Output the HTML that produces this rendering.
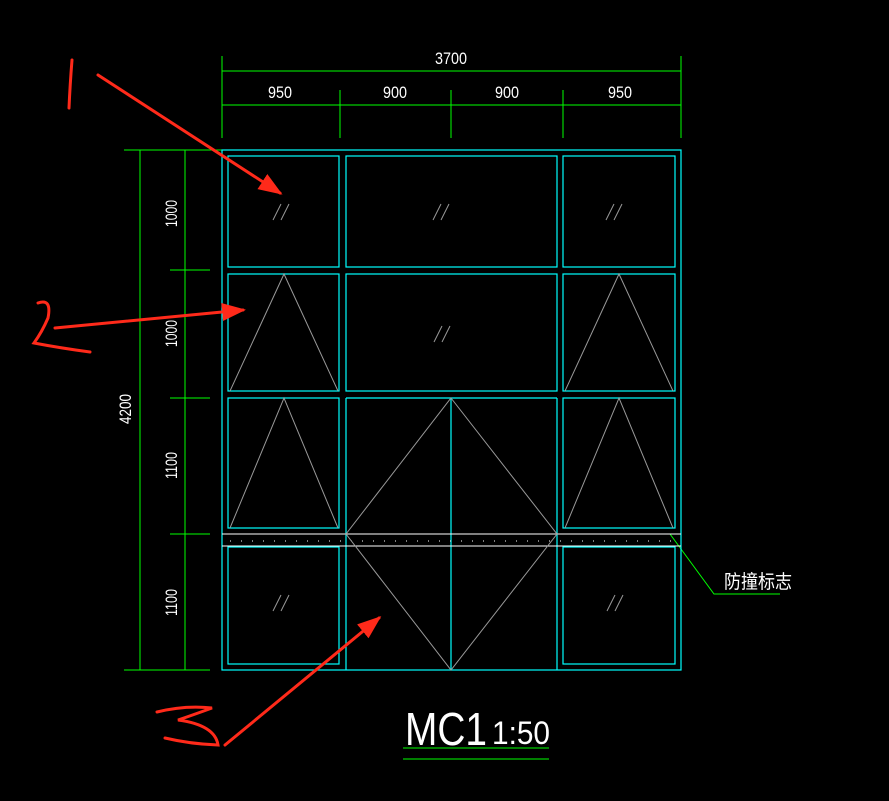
<!DOCTYPE html>
<html><head><meta charset="utf-8"><style>
html,body{margin:0;padding:0;background:#000;}
svg{display:block}
text{font-family:"Liberation Sans","Noto Sans CJK SC",sans-serif;fill:#fff}
</style></head><body>
<svg width="889" height="801" viewBox="0 0 889 801" xmlns="http://www.w3.org/2000/svg">
<defs><marker id="ah" markerWidth="8" markerHeight="8" refX="7" refY="4" orient="auto" markerUnits="strokeWidth"><path d="M0,1 L8,4 L0,7 Z" fill="#ff2a1a"/></marker></defs>
<g stroke="#00ff00" stroke-width="1" fill="none">
<line x1="222" y1="71" x2="681" y2="71"/><line x1="222" y1="105" x2="681" y2="105"/>
<line x1="222" y1="56" x2="222" y2="138"/><line x1="681" y1="56" x2="681" y2="138"/>
<line x1="340" y1="90" x2="340" y2="138"/><line x1="451" y1="90" x2="451" y2="138"/><line x1="563" y1="90" x2="563" y2="138"/>
<line x1="140" y1="150" x2="140" y2="670"/><line x1="185" y1="150" x2="185" y2="670"/>
<line x1="124" y1="150" x2="222" y2="150"/><line x1="124" y1="670" x2="210" y2="670"/>
<line x1="170" y1="270" x2="210" y2="270"/><line x1="170" y1="398" x2="210" y2="398"/><line x1="170" y1="534" x2="210" y2="534"/>
<polyline points="670,534 714,594 780,594"/>
<line x1="403" y1="748" x2="549" y2="748"/><line x1="403" y1="759" x2="549" y2="759"/>
</g>
<g fill="#fff" font-size="17">
<text x="435" y="64" textLength="32" lengthAdjust="spacingAndGlyphs">3700</text>
<text x="268" y="98" textLength="24" lengthAdjust="spacingAndGlyphs">950</text><text x="383" y="98" textLength="24" lengthAdjust="spacingAndGlyphs">900</text>
<text x="495" y="98" textLength="24" lengthAdjust="spacingAndGlyphs">900</text><text x="608" y="98" textLength="24" lengthAdjust="spacingAndGlyphs">950</text>
<text transform="translate(177,227) rotate(-90)" textLength="27" lengthAdjust="spacingAndGlyphs">1000</text>
<text transform="translate(177,347) rotate(-90)" textLength="27" lengthAdjust="spacingAndGlyphs">1000</text>
<text transform="translate(177,479) rotate(-90)" textLength="27" lengthAdjust="spacingAndGlyphs">1100</text>
<text transform="translate(177,616) rotate(-90)" textLength="27" lengthAdjust="spacingAndGlyphs">1100</text>
<text transform="translate(131,424) rotate(-90)" textLength="30" lengthAdjust="spacingAndGlyphs">4200</text>
<text x="724" y="588" font-size="19" textLength="68" lengthAdjust="spacingAndGlyphs">防撞标志</text>
<text x="405" y="745" font-size="46" textLength="82" lengthAdjust="spacingAndGlyphs">MC1</text><text x="492" y="744" font-size="32" textLength="58" lengthAdjust="spacingAndGlyphs">1:50</text>
</g>
<g stroke="#00ffff" stroke-width="1.2" fill="none">
<rect x="222" y="150" width="459" height="520"/>
<rect x="228" y="156" width="111" height="111"/><rect x="346" y="156" width="211" height="111"/><rect x="563" y="156" width="112" height="111"/>
<rect x="228" y="274" width="111" height="117"/><rect x="346" y="274" width="211" height="117"/><rect x="563" y="274" width="112" height="117"/>
<rect x="228" y="398" width="111" height="130"/><rect x="563" y="398" width="112" height="130"/>
<rect x="228" y="547" width="111" height="117"/><rect x="563" y="547" width="112" height="117"/>
<line x1="346" y1="398" x2="557" y2="398"/>
<line x1="346" y1="398" x2="346" y2="670"/><line x1="557" y1="398" x2="557" y2="670"/><line x1="451" y1="398" x2="451" y2="670"/>
</g>
<g stroke="#fff" stroke-width="1">
<line x1="222" y1="534" x2="681" y2="534"/><line x1="222" y1="546" x2="681" y2="546"/>
<line x1="230" y1="541" x2="675" y2="541" stroke-dasharray="1,10"/>
</g>
<g stroke="#999" stroke-width="1" fill="none">
<polyline points="230,391 284,274 338,391"/><polyline points="565,391 619,274 673,391"/>
<polyline points="230,528 284,398 338,528"/><polyline points="565,528 619,398 673,528"/>
<polygon points="451,398 557,534 451,670 346,534"/>
<path d="M273,220 l8,-16 M281,220 l8,-16 M433,220 l8,-16 M441,220 l8,-16 M606,220 l8,-16 M614,220 l8,-16 M434,342 l8,-16 M442,342 l8,-16 M273,611 l8,-16 M281,611 l8,-16 M607,611 l8,-16 M615,611 l8,-16"/>
</g>
<g stroke="#ff2a1a" stroke-width="3" fill="none" stroke-linecap="round">
<line x1="98" y1="75" x2="280" y2="193" marker-end="url(#ah)"/>
<line x1="55" y1="328" x2="243" y2="310" marker-end="url(#ah)"/>
<line x1="225" y1="745" x2="379" y2="618" marker-end="url(#ah)"/>
<path d="M72,60 Q70,85 69,108"/>
<path d="M38,303 Q52,298 48,318 Q42,332 34,343 Q60,348 90,352"/>
<path d="M157,712 Q185,705 212,708 Q190,716 178,720 Q215,725 218,745 Q190,744 165,738"/>
</g>
</svg>
</body></html>
